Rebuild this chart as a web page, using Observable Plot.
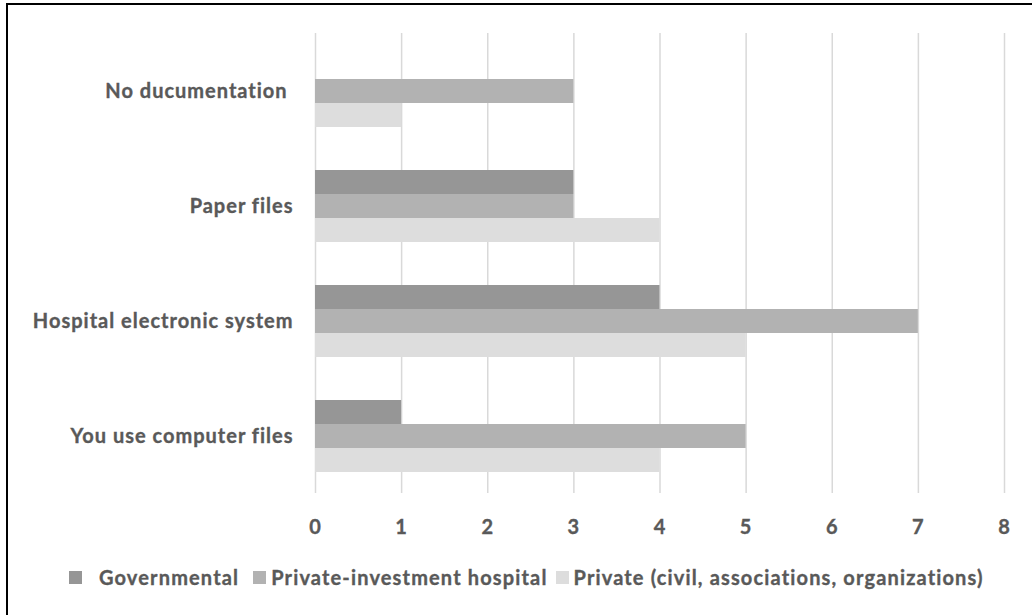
<!DOCTYPE html>
<html>
<head>
<meta charset="utf-8">
<script src="https://cdn.jsdelivr.net/npm/d3@7"></script>
<script src="https://cdn.jsdelivr.net/npm/@observablehq/plot@0.6"></script>
<style>
  html, body { margin: 0; padding: 0; background: #fff; }
  body { width: 1032px; height: 615px; overflow: hidden; position: relative; font-family: Lato, "Open Sans", sans-serif; }
  #frame { position: absolute; left: 6px; top: 3px; width: 1100px; height: 700px; border-left: 2px solid #000; border-top: 2px solid #000; }
  #chart { position: absolute; left: 0; top: 0; }
  #chart svg text { white-space: pre; letter-spacing: 1px; stroke: #595959; stroke-width: 0.35px; }
  #legend { position: absolute; left: 69px; top: 565px; height: 24px; display: flex; align-items: center;
            font: bold 20px Lato, sans-serif; color: #595959; white-space: nowrap; letter-spacing: 1.15px;
            -webkit-text-stroke: 0.35px #595959; }
  #legend .item { display: flex; align-items: center; }
  #legend .item:nth-child(1) { margin-right: 14px; }
  #legend .item:nth-child(2) { margin-right: 8px; }
  #legend .sw { width: 13px; height: 13px; display: inline-block; margin-right: 5px; }
  #legend .item:first-child .sw { margin-right: 17px; }
</style>
</head>
<body>
<div id="frame"></div>
<div id="chart"></div>
<div id="legend"></div>
<script>
const categories = ["No ducumentation ", "Paper files", "Hospital electronic system", "You use computer files"];
const series = ["Governmental", "Private-investment hospital", "Private (civil, associations, organizations)"];
const governmental = [0, 3, 4, 1];
const privateInvestment = [3, 3, 7, 5];
const privateCivil = [1, 4, 5, 4];
const seriesColors = ["#969696", "#b2b2b2", "#dddddd"];
const xTicks = [0, 1, 2, 3, 4, 5, 6, 7, 8];

const valuesBySeries = [governmental, privateInvestment, privateCivil];
const rows = [];
series.forEach((s, si) => {
  categories.forEach((c, ci) => {
    rows.push({category: c, series: s, value: valuesBySeries[si][ci]});
  });
});

const insets = [[0, 48], [24, 24], [48, 0]];

const chart = Plot.plot({
  width: 1032,
  height: 560,
  marginTop: 33,
  marginBottom: 67,
  marginLeft: 315,
  marginRight: 28,
  style: {fontFamily: "Lato, sans-serif", fontSize: "20px", fontWeight: "bold", color: "#595959", background: "transparent"},
  x: {domain: [0, 8], ticks: xTicks, tickFormat: d => String(d), tickSize: 0, tickPadding: 26, label: null, line: false},
  y: {domain: categories, paddingInner: 0.374, paddingOuter: 0.187, tickSize: 0, tickPadding: 22, label: null},
  color: {domain: series, range: seriesColors},
  marks: [
    Plot.ruleX(xTicks, {stroke: "#d9d9d9", strokeWidth: 1.5}),
    ...series.map((s, si) => Plot.barX(rows.filter(r => r.series === s), {
      x: "value", y: "category", fill: "series",
      insetTop: insets[si][0], insetBottom: insets[si][1]
    }))
  ]
});
document.getElementById("chart").appendChild(chart);

const legend = document.getElementById("legend");
series.forEach((s, si) => {
  const item = document.createElement("span");
  item.className = "item";
  const sw = document.createElement("span");
  sw.className = "sw";
  sw.style.background = seriesColors[si];
  const label = document.createElement("span");
  label.textContent = s;
  item.appendChild(sw);
  item.appendChild(label);
  legend.appendChild(item);
});
</script>
</body>
</html>
